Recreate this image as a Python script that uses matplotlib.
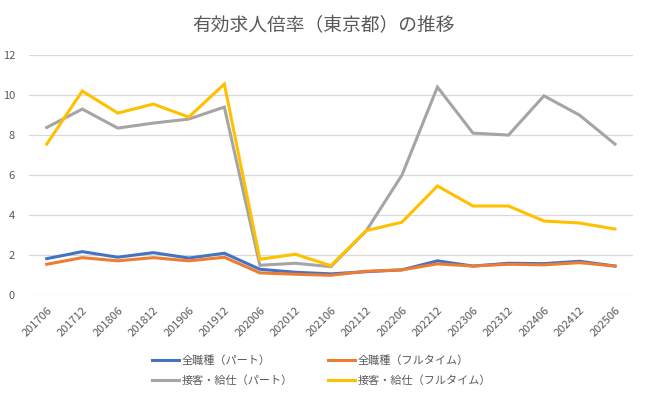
import matplotlib.pyplot as plt

plt.rcParams["font.family"] = ["Noto Sans CJK JP", "DejaVu Sans"]

months = ["201706", "201712", "201806", "201812", "201906", "201912", "202006",
          "202012", "202106", "202112", "202206", "202212", "202306", "202312",
          "202406", "202412", "202506"]

all_part = [1.83, 2.18, 1.9, 2.13, 1.86, 2.1, 1.3, 1.15, 1.07, 1.18, 1.27,
            1.72, 1.46, 1.6, 1.58, 1.7, 1.46]
all_full = [1.55, 1.88, 1.72, 1.88, 1.72, 1.9, 1.12, 1.05, 1.0, 1.2, 1.27,
            1.57, 1.46, 1.55, 1.52, 1.63, 1.46]
serv_part = [8.38, 9.3, 8.35, 8.6, 8.8, 9.4, 1.5, 1.6, 1.43, 3.23, 6.0,
             10.4, 8.1, 8.0, 9.96, 9.0, 7.55]
serv_full = [7.55, 10.2, 9.1, 9.55, 8.9, 10.55, 1.8, 2.05, 1.48, 3.23, 3.65,
             5.46, 4.46, 4.46, 3.71, 3.61, 3.31]

series = [
    ("全職種（パート）", all_part, "#4472C4"),
    ("全職種（フルタイム）", all_full, "#ED7D31"),
    ("接客・給仕（パート）", serv_part, "#A5A5A5"),
    ("接客・給仕（フルタイム）", serv_full, "#FFC000"),
]

text_color = "#595959"

fig = plt.figure(figsize=(6.47, 3.96), dpi=100)
ax = fig.add_axes([0.0448, 0.2543, 0.9332, 0.6068])

x = list(range(len(months)))
lines = []
for label, values, color in series:
    ln, = ax.plot(x, values, color=color, linewidth=2.2, label=label,
                  solid_joinstyle="miter")
    lines.append(ln)

ax.set_xlim(-0.5, len(months) - 0.5)
ax.set_ylim(0, 12)
ax.set_yticks(range(0, 13, 2))
ax.set_xticks(x)
ax.set_xticklabels(months, rotation=45, ha="right", rotation_mode="anchor")
ax.grid(axis="y", color="#D9D9D9", linewidth=0.9)
ax.set_axisbelow(True)
for s in ax.spines.values():
    s.set_visible(False)
ax.tick_params(axis="both", length=0, colors=text_color, labelsize=8)
ax.tick_params(axis="y", pad=10)
ax.tick_params(axis="x", pad=7)

fig.suptitle("有効求人倍率（東京都）の推移", x=0.5, y=0.962,
             fontsize=13.5, color=text_color)

# row-wise legend order like the original
order = [0, 2, 1, 3]
leg = fig.legend([lines[i] for i in order], [series[i][0] for i in order],
                 loc="center", bbox_to_anchor=(0.497, 0.064), ncol=2,
                 frameon=False, fontsize=8, handlelength=2.4,
                 columnspacing=3.2, handletextpad=0.25, labelspacing=0.9)
for t in leg.get_texts():
    t.set_color(text_color)

fig.savefig("out.png", dpi=100)
